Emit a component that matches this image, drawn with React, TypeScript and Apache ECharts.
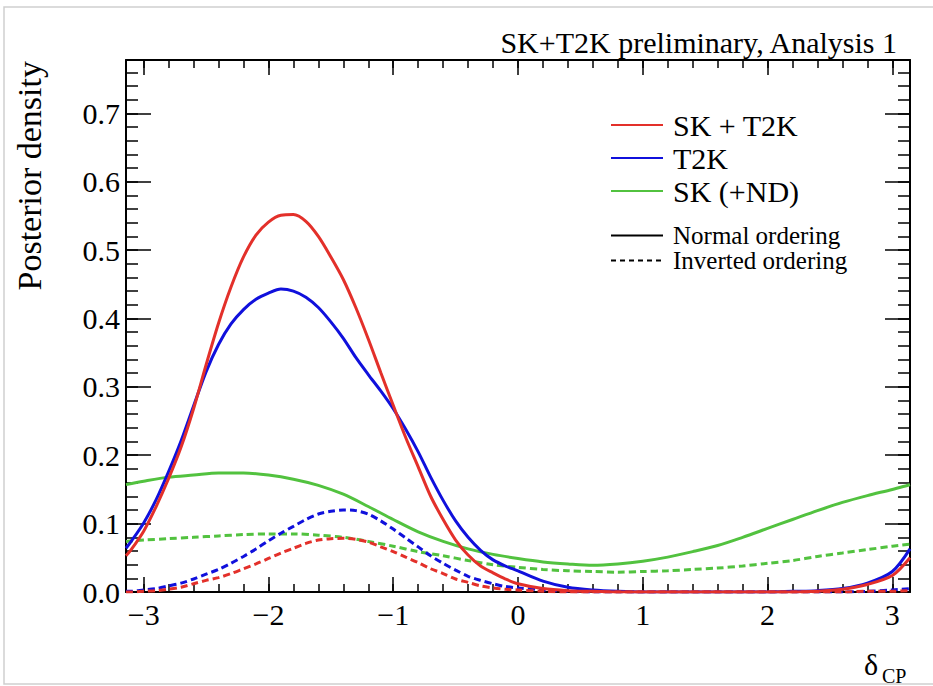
import React, { useEffect, useRef } from "react";
import * as echarts from "echarts";

// δCP sampling (radians): fine steps where the narrow peaks are, coarser elsewhere
const deltaFine = [
  -3.1416, -3.1, -3.0, -2.9, -2.8, -2.7, -2.6, -2.5, -2.4, -2.3, -2.2, -2.1, -2.0, -1.9, -1.8, -1.7, -1.6,
  -1.5, -1.4, -1.3, -1.2, -1.1, -1.0, -0.9, -0.8, -0.7, -0.6, -0.5, -0.4, -0.3, -0.2, -0.1, 0.0,
  0.2, 0.4, 0.6, 0.8, 1.0, 1.2, 1.4, 1.6, 1.8, 2.0, 2.2, 2.4, 2.6, 2.8, 3.0, 3.1416,
];
const deltaCoarse = [
  -3.1416, -3.0, -2.8, -2.6, -2.4, -2.2, -2.0, -1.8, -1.6, -1.4, -1.2, -1.0, -0.8, -0.6, -0.4, -0.2,
  0.0, 0.2, 0.4, 0.6, 0.8, 1.0, 1.2, 1.4, 1.6, 1.8, 2.0, 2.2, 2.4, 2.6, 2.8, 3.0, 3.1416,
];

// SK + T2K, normal ordering (on deltaFine)
const skT2kNO = [
  0.053, 0.062, 0.089, 0.125, 0.166, 0.212, 0.268, 0.332, 0.393, 0.446, 0.49, 0.522, 0.541, 0.551, 0.552, 0.542, 0.52,
  0.49, 0.457, 0.416, 0.37, 0.321, 0.273, 0.226, 0.183, 0.14, 0.106, 0.076, 0.054, 0.038, 0.028, 0.019, 0.012,
  0.005, 0.002, 0.001, 0.0, 0.0, 0.0, 0.0, 0.0, 0.0, 0.0, 0.0, 0.001, 0.004, 0.011, 0.024, 0.05,
];
// SK + T2K, inverted ordering (on deltaFine)
const skT2kIO = [
  0.0, 0.0, 0.001, 0.002, 0.004, 0.007, 0.012, 0.017, 0.021, 0.027, 0.034, 0.041, 0.049, 0.057, 0.064, 0.071, 0.076,
  0.078, 0.0785, 0.077, 0.073, 0.066, 0.059, 0.051, 0.043, 0.034, 0.027, 0.019, 0.014, 0.009, 0.006, 0.004, 0.003,
  0.001, 0.0, 0.0, 0.0, 0.0, 0.0, 0.0, 0.0, 0.0, 0.0, 0.0, 0.0, 0.0, 0.001, 0.001, 0.002,
];
// T2K, normal ordering (on deltaFine)
const t2kNO = [
  0.064, 0.074, 0.101, 0.135, 0.176, 0.221, 0.272, 0.322, 0.362, 0.392, 0.413, 0.428, 0.437, 0.443, 0.44, 0.431, 0.416,
  0.395, 0.371, 0.343, 0.318, 0.294, 0.268, 0.238, 0.205, 0.168, 0.134, 0.104, 0.08, 0.061, 0.047, 0.038, 0.031,
  0.016, 0.007, 0.003, 0.001, 0.0, 0.0, 0.0, 0.0, 0.0, 0.0, 0.001, 0.002, 0.005, 0.013, 0.03, 0.063,
];
// T2K, inverted ordering (on deltaFine)
const t2kIO = [
  0.001, 0.001, 0.003, 0.005, 0.009, 0.013, 0.019, 0.026, 0.033, 0.042, 0.052, 0.063, 0.075, 0.086, 0.096, 0.106, 0.114,
  0.118, 0.12, 0.119, 0.114, 0.104, 0.092, 0.079, 0.066, 0.053, 0.042, 0.032, 0.023, 0.017, 0.012, 0.008, 0.006,
  0.003, 0.001, 0.0, 0.0, 0.0, 0.0, 0.0, 0.0, 0.0, 0.0, 0.0, 0.0, 0.0, 0.001, 0.003, 0.005,
];
// SK (+ND), normal ordering (on deltaCoarse)
const skNO = [
  0.157, 0.162, 0.168, 0.171, 0.174, 0.174, 0.171, 0.165, 0.156, 0.143, 0.125, 0.106, 0.088, 0.074, 0.063, 0.055,
  0.049, 0.044, 0.041, 0.039, 0.041, 0.045, 0.051, 0.059, 0.068, 0.08, 0.093, 0.106, 0.119, 0.131, 0.141, 0.15, 0.157,
];
// SK (+ND), inverted ordering (on deltaCoarse)
const skIO = [
  0.074, 0.076, 0.078, 0.08, 0.082, 0.084, 0.085, 0.085, 0.083, 0.08, 0.074, 0.067, 0.059, 0.053, 0.046, 0.04,
  0.036, 0.033, 0.031, 0.03, 0.029, 0.03, 0.031, 0.033, 0.035, 0.038, 0.042, 0.046, 0.052, 0.057, 0.062, 0.067, 0.07,
];

const xMajorTicks = [-3, -2, -1, 0, 1, 2, 3];
const yMajorTicks = [0, 0.1, 0.2, 0.3, 0.4, 0.5, 0.6, 0.7];

const X_MIN = -Math.PI;
const X_MAX = Math.PI;
const Y_MAX = 0.778;

const FONT = "'Liberation Serif', 'Times New Roman', serif";
const RED = "#e3302a";
const BLUE = "#1010dc";
const GREEN = "#52c23f";

// minor tick positions every 0.2 on x and 0.02 on y
const xMinorTicks: number[] = [];
for (let i = -15; i <= 15; i++) xMinorTicks.push(Math.round(i * 0.2 * 10) / 10);
const yMinorTicks: number[] = [];
for (let i = 0; i <= 38; i++) yMinorTicks.push(Math.round(i * 0.02 * 100) / 100);

const pairs = (xs: number[], ys: number[]) => xs.map((x, i) => [x, ys[i]]);

function xAxisDef(position: "bottom" | "top", ticks: number[], len: number, main: boolean, labels: boolean) {
  return {
    type: "value",
    position,
    min: X_MIN,
    max: X_MAX,
    axisLine: { show: main, onZero: false, lineStyle: { color: "#000", width: 2 } },
    axisTick: { show: true, inside: true, length: len, customValues: ticks, lineStyle: { color: "#000", width: 1.5 } },
    axisLabel: labels
      ? {
          show: true,
          customValues: xMajorTicks,
          formatter: (v: number) => String(Math.round(v)).replace("-", "\u2212"),
          fontFamily: FONT,
          fontSize: 30,
          color: "#000",
          margin: 7,
        }
      : { show: false },
    splitLine: { show: false },
  };
}

function yAxisDef(position: "left" | "right", ticks: number[], len: number, main: boolean, labels: boolean) {
  return {
    type: "value",
    position,
    min: 0,
    max: Y_MAX,
    axisLine: { show: main, onZero: false, lineStyle: { color: "#000", width: 2 } },
    axisTick: { show: true, inside: true, length: len, customValues: ticks, lineStyle: { color: "#000", width: 1.5 } },
    axisLabel: labels
      ? {
          show: true,
          customValues: yMajorTicks,
          formatter: (v: number) => v.toFixed(1),
          fontFamily: FONT,
          fontSize: 30,
          color: "#000",
          margin: 6,
        }
      : { show: false },
    splitLine: { show: false },
  };
}

function curve(name: string, xs: number[], ys: number[], color: string, dashed: boolean) {
  return {
    name,
    type: "line",
    data: pairs(xs, ys),
    xAxisIndex: 0,
    yAxisIndex: 0,
    smooth: 0.3,
    symbol: "none",
    showSymbol: false,
    lineStyle: { color, width: 3, type: dashed ? [7, 4] : "solid" },
    itemStyle: { color },
    z: 3,
  };
}

export default function App() {
  const ref = useRef<HTMLDivElement>(null);

  useEffect(() => {
    if (!ref.current) return;
    const chart = echarts.init(ref.current, undefined, { renderer: "svg" });
    chart.setOption({
      animation: false,
      backgroundColor: "#fff",
      grid: { left: 126, right: 23, top: 60, bottom: 94, containLabel: false },
      xAxis: [
        xAxisDef("bottom", xMajorTicks, 15, true, true),
        xAxisDef("bottom", xMinorTicks, 8, false, false),
        xAxisDef("top", xMajorTicks, 15, true, false),
        xAxisDef("top", xMinorTicks, 8, false, false),
      ],
      yAxis: [
        yAxisDef("left", yMajorTicks, 25, true, true),
        yAxisDef("left", yMinorTicks, 12, false, false),
        yAxisDef("right", yMajorTicks, 25, true, false),
        yAxisDef("right", yMinorTicks, 12, false, false),
      ],
      legend: [
        {
          data: ["SK + T2K", "T2K", "SK (+ND)"],
          orient: "vertical",
          left: 605,
          top: 105,
          itemWidth: 52,
          itemHeight: 20,
          itemGap: 3,
          selectedMode: false,
          itemStyle: { opacity: 0 },
          textStyle: { fontFamily: FONT, fontSize: 30, color: "#000", padding: [0, 0, 0, 5] },
        },
        {
          data: ["Normal ordering", "Inverted ordering"],
          orient: "vertical",
          left: 605,
          top: 218,
          itemWidth: 52,
          itemHeight: 20,
          itemGap: 0,
          selectedMode: false,
          itemStyle: { opacity: 0 },
          textStyle: { fontFamily: FONT, fontSize: 25, color: "#000", padding: [0, 0, 0, 5] },
        },
      ],
      series: [
        curve("SK (+ND)", deltaCoarse, skNO, GREEN, false),
        curve("SK (+ND)", deltaCoarse, skIO, GREEN, true),
        curve("T2K", deltaFine, t2kNO, BLUE, false),
        curve("T2K", deltaFine, t2kIO, BLUE, true),
        curve("SK + T2K", deltaFine, skT2kNO, RED, false),
        curve("SK + T2K", deltaFine, skT2kIO, RED, true),
        {
          name: "Normal ordering",
          type: "line",
          data: [],
          symbol: "none",
          lineStyle: { color: "#000", width: 2, type: "solid" },
          itemStyle: { color: "#000" },
        },
        {
          name: "Inverted ordering",
          type: "line",
          data: [],
          symbol: "none",
          lineStyle: { color: "#000", width: 2, type: [5, 4] },
          itemStyle: { color: "#000" },
        },
      ],
      graphic: [
        {
          type: "rect",
          silent: true,
          shape: { x: 4, y: 7, width: 940, height: 677 },
          style: { fill: "none", stroke: "#cfcfcf", lineWidth: 1.5 },
          z: -1,
        },
        {
          type: "text",
          x: 897,
          y: 42,
          style: {
            text: "SK+T2K preliminary, Analysis 1",
            fontFamily: FONT,
            fontSize: 30,
            fill: "#000",
            align: "right",
            verticalAlign: "middle",
          },
        },
        {
          type: "text",
          x: 29,
          y: 61,
          rotation: Math.PI / 2,
          style: {
            text: "Posterior density",
            fontFamily: FONT,
            fontSize: 34,
            fill: "#000",
            align: "right",
            verticalAlign: "middle",
          },
        },
        {
          type: "text",
          x: 864,
          y: 664,
          style: { text: "\u03b4", fontFamily: FONT, fontSize: 30, fill: "#000", align: "left", verticalAlign: "middle" },
        },
        {
          type: "text",
          x: 882,
          y: 676,
          style: { text: "CP", fontFamily: FONT, fontSize: 20, fill: "#000", align: "left", verticalAlign: "middle" },
        },
      ],
    });
    return () => chart.dispose();
  }, []);

  return (
    <div
      ref={ref}
      style={{ position: "fixed", left: 0, top: 0, width: 933, height: 686, background: "#fff" }}
    />
  );
}
